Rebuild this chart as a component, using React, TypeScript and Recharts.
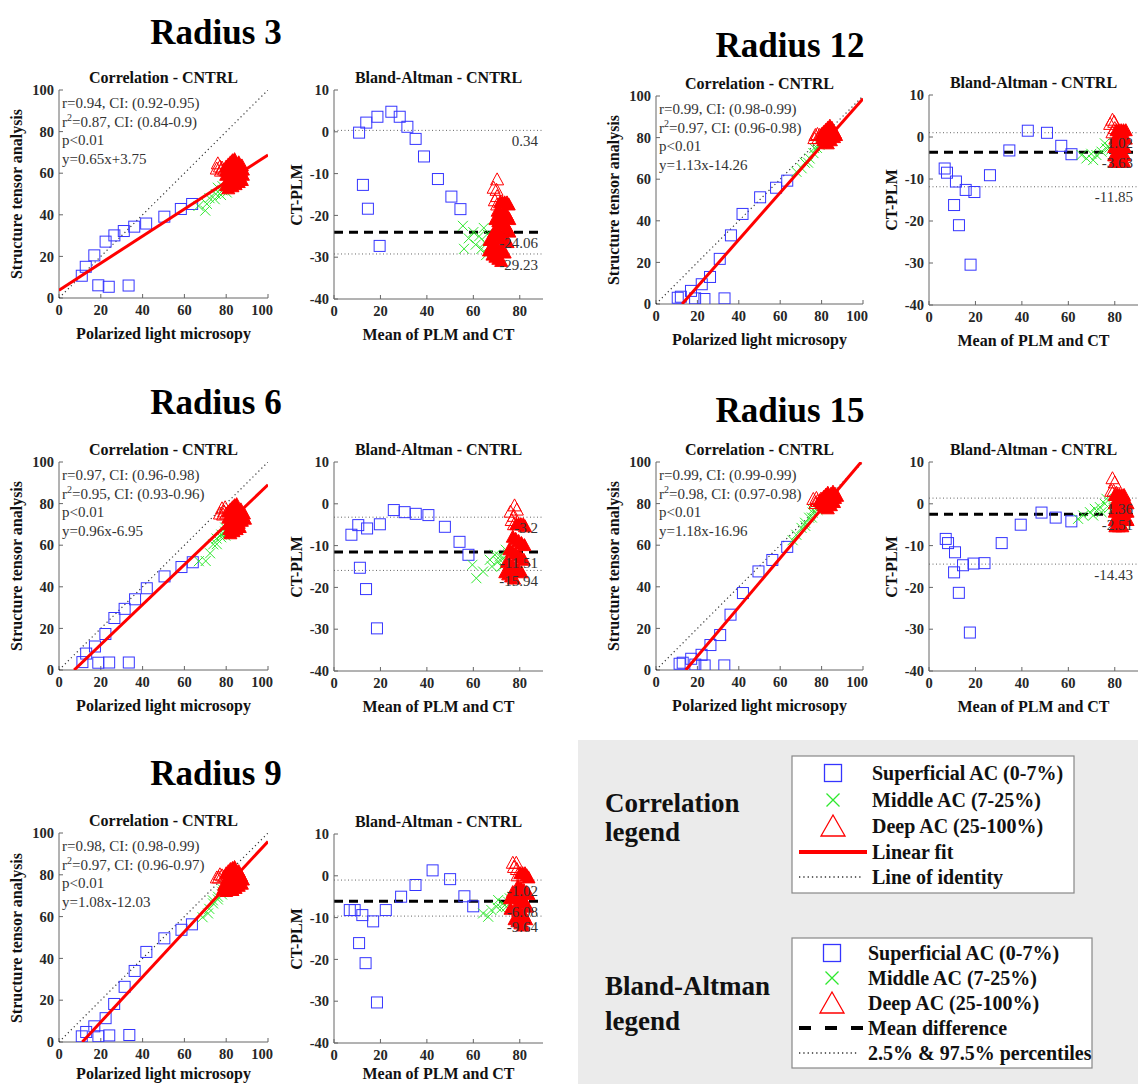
import React from 'react';
import { ScatterChart, Scatter, XAxis, YAxis, ReferenceLine } from 'recharts';

const FONT = "'Liberation Serif', 'Times New Roman', Times, serif";
type Pt = [number, number];

// ---------------- DATA (x = PLM, y = CT) ----------------
const radiusNames = ['Radius 3', 'Radius 12', 'Radius 6', 'Radius 15', 'Radius 9'];
const corrTicks = [0, 20, 40, 60, 80, 100];
const baXTicks = [0, 20, 40, 60, 80];
const baYTicks = [-40, -30, -20, -10, 0, 10];

// Radius 3
const r3Superficial: Pt[] = [[10.9,10.7],[12.8,15],[16.9,20.5],[22.3,27.1],[26.5,30.1],[31,32.2],[36,34.3],[41.7,35.8],[50.4,39.1],[58.3,42.8],[63.7,45.2],[18.8,6.1],[23.8,5.4],[33.3,6]];
const r3Middle: Pt[] = [[66.75,44.25],[70,42],[70.75,45.25],[72,48],[74.5,47.5],[75,50],[77.5,49.5],[76,53],[78.25,51.75],[80.25,50.75],[78.25,53.75],[80.25,52.75]];
const r3DeepEdge: Pt[] = [[76,64.5],[77,63],[75.5,62],[78,62.5],[77.5,61],[79,61.5]];
const r3DeepCore: Pt[] = [
  [80,63],[81,64],[82,65],[83,66],[84,66.5],
  [80,61],[81.5,62],[83,63.5],[84.5,64.5],[86,65],
  [80,59],[81.5,60],[83,61],[84.5,62],[86,63],[87.5,63.5],
  [81,57],[82.5,58],[84,59],[85.5,60],[87,61],[88,61.5],
  [82,55],[83.5,56],[85,57],[86.5,58],[88,59],
  [80,54],[81,52.5],[83,53.5],[84.5,54.5],[86,55.5],[87.5,56.5]];
const r3Fit = { slope: 0.65, intercept: 3.75 };
const r3Stats = ['r=0.94, CI: (0.92-0.95)', '=0.87, CI: (0.84-0.9)', 'p<0.01', 'y=0.65x+3.75'];
const r3Limits = [0.34, -24.06, -29.23];
const r3LimitLabels = ['0.34', '-24.06', '-29.23'];

// Radius 6
const r6Superficial: Pt[] = [[11.2,3.8],[13,7.9],[17.2,11.3],[22.2,17.3],[26.5,25],[31.4,29.4],[36.4,34],[42,39.3],[50.5,45],[58.6,49.5],[64,51.8],[18.8,3.5],[24,3.6],[33.4,3.6]];
const r6Middle: Pt[] = [[66.9,52.3],[70.2,52.4],[72.3,56.1],[73.8,60.4],[75.4,63.2],[77.6,63.8],[79.6,64.6],[77.7,65.1],[79.5,66.5],[79.5,68.5],[80.75,66.25],[75.5,60.5],[81,69]];
const r6DeepEdge: Pt[] = [[78,77.5],[79,76],[78.5,74.5],[80,75],[77,75],[79.5,78]];
const r6DeepCore: Pt[] = [
  [81,76],[82,77],[83,78],[84,79],[85,79.5],
  [81,73],[82.5,74],[84,75],[85.5,76],[87,77],
  [81,70],[82.5,71],[84,72],[85.5,73],[87,74],[88.5,75],
  [81.5,67.5],[83,68.5],[84.5,69.5],[86,70.5],[87.5,71.5],[89,72.5],
  [82,65.5],[83.5,66.5],[85,67.5],[86.5,68.5]];
const r6Fit = { slope: 0.96, intercept: -6.95 };
const r6Stats = ['r=0.97, CI: (0.96-0.98)', '=0.95, CI: (0.93-0.96)', 'p<0.01', 'y=0.96x-6.95'];
const r6Limits = [-3.2, -11.51, -15.94];
const r6LimitLabels = ['-3.2', '-11.51', '-15.94'];

// Radius 9
const r9Superficial: Pt[] = [[10.9,2.7],[13,4.8],[16.9,7.5],[22.3,11.4],[26.4,18.2],[31.4,26.4],[36.2,34],[41.8,43.1],[50.4,49.6],[58.6,53.7],[63.6,56.3],[18.85,2.75],[24.05,3.15],[33.65,3.35]];
const r9Middle: Pt[] = [[68.7,59.7],[71.3,61.5],[71.9,63.7],[73.7,66.3],[76.1,69.5],[78.1,71.9],[78,70.6],[76,68.2],[73.6,67.8],[78.4,73],[79.5,74.5]];
const r9DeepEdge: Pt[] = [[77,80],[78,79.5],[76.5,78.5],[79,79],[75.5,78.5]];
const r9DeepCore: Pt[] = [
  [80,80.5],[81,81.5],[82,82.5],[83,83],[84,83.5],
  [80.5,78],[82,79],[83.5,80],[85,81],[86,81.5],
  [81,76],[82.5,77],[84,78],[85.5,79],[87,79.5],
  [82,74],[83.5,75],[85,76],[86.5,77],[88,77.5],
  [83,72.5],[84.5,73.5],[86,74.5],[87.5,75.5],
  [79,75],[78.5,73],[80,72]];
const r9Fit = { slope: 1.08, intercept: -12.03 };
const r9Stats = ['r=0.98, CI: (0.98-0.99)', '=0.97, CI: (0.96-0.97)', 'p<0.01', 'y=1.08x-12.03'];
const r9Limits = [-1.02, -6.08, -9.64];
const r9LimitLabels = ['-1.02', '-6.08', '-9.64'];

// Radius 12
const r12Superficial: Pt[] = [[10.5,3],[12,3.5],[16.9,6.3],[22.1,9.5],[26.1,13],[30.8,21.7],[36.2,33],[41.8,43.3],[50.3,51.3],[58,55.9],[63.4,59.3],[18.9,2.7],[23.4,2.4],[33.1,2.7]];
const r12Middle: Pt[] = [[67.85,63.55],[70.35,65.25],[71.9,67.9],[74.25,69.95],[76.05,72.55],[77.75,75.05],[76.45,74.95],[73.45,67.95],[80,77],[79,76.5]];
const r12DeepEdge: Pt[] = [[77,81],[78,81.5],[76.5,79.5],[79,81],[78.5,79.5]];
const r12DeepCore: Pt[] = [
  [80,81.5],[81,82.5],[82,83.5],[83,84.5],[84,85.5],
  [80.5,80],[82,81.5],[83.5,83],[85,84.5],
  [81,78.5],[82.5,80],[84,81.5],[85.5,83],
  [82,77.5],[83.5,79],[85,80.5],[86.5,82],
  [83,77],[84.5,78.5],[86,80],[87,81]];
const r12Fit = { slope: 1.13, intercept: -14.26 };
const r12Stats = ['r=0.99, CI: (0.98-0.99)', '=0.97, CI: (0.96-0.98)', 'p<0.01', 'y=1.13x-14.26'];
const r12Limits = [1.02, -3.63, -11.85];
const r12LimitLabels = ['1.02', '-3.63', '-11.85'];

// Radius 15
const r15Superficial: Pt[] = [[11.4,3],[12.9,3.5],[17,5.4],[19,2.6],[23.5,2.2],[22,7.3],[26.3,12],[31,16.8],[36,26.6],[42,37],[49.5,47.4],[56.2,52.9],[63.4,59.2],[33,2.2]];
const r15Middle: Pt[] = [[66,62.4],[67.8,65],[70.3,68.3],[72,70.8],[74,73.2],[75.7,75.7],[75.8,77],[75.3,73.3],[72.1,69.3],[78,77],[80,79]];
const r15DeepEdge: Pt[] = [[76,82],[77.5,82.5],[78,81],[79.5,82],[77,80]];
const r15DeepCore: Pt[] = [
  [79,81],[80,82],[81,83],[82,84],[83,85],
  [80,80],[81.5,81.5],[83,83],[84.5,84.5],[85.5,85.5],
  [81,79],[82.5,80.5],[84,82],[85.5,83.5],[86.5,84.5],
  [82,78],[83.5,79.5],[85,81],[86.5,82.5],[87.5,83.5],
  [83,77.5],[84.5,79],[86,80.5]];
const r15Fit = { slope: 1.18, intercept: -16.96 };
const r15Stats = ['r=0.99, CI: (0.99-0.99)', '=0.98, CI: (0.97-0.98)', 'p<0.01', 'y=1.18x-16.96'];
const r15Limits = [1.36, -2.51, -14.43];
const r15LimitLabels = ['1.36', '-2.51', '-14.43'];

const datasets = [
  { sup: r3Superficial, mid: r3Middle, edge: r3DeepEdge, core: r3DeepCore, fit: r3Fit, stats: r3Stats, limits: r3Limits, labels: r3LimitLabels },
  { sup: r12Superficial, mid: r12Middle, edge: r12DeepEdge, core: r12DeepCore, fit: r12Fit, stats: r12Stats, limits: r12Limits, labels: r12LimitLabels },
  { sup: r6Superficial, mid: r6Middle, edge: r6DeepEdge, core: r6DeepCore, fit: r6Fit, stats: r6Stats, limits: r6Limits, labels: r6LimitLabels },
  { sup: r15Superficial, mid: r15Middle, edge: r15DeepEdge, core: r15DeepCore, fit: r15Fit, stats: r15Stats, limits: r15Limits, labels: r15LimitLabels },
  { sup: r9Superficial, mid: r9Middle, edge: r9DeepEdge, core: r9DeepCore, fit: r9Fit, stats: r9Stats, limits: r9Limits, labels: r9LimitLabels },
];

// ---------------- LAYOUT ----------------
type Rect = { L: number; T: number; R: number; B: number };
const layout: { tx: number; ty: number; corr: Rect; ba: Rect }[] = [
  { tx: 216, ty: 32, corr: { L: 59, T: 90, R: 268, B: 298 }, ba: { L: 334, T: 90, R: 543, B: 299 } },
  { tx: 790, ty: 45, corr: { L: 656, T: 96, R: 863, B: 304 }, ba: { L: 929, T: 95, R: 1138, B: 305 } },
  { tx: 216, ty: 402, corr: { L: 59, T: 462, R: 268, B: 670 }, ba: { L: 334, T: 462, R: 543, B: 671 } },
  { tx: 790, ty: 410, corr: { L: 656, T: 462, R: 863, B: 670 }, ba: { L: 929, T: 462, R: 1138, B: 671 } },
  { tx: 216, ty: 773, corr: { L: 59, T: 833, R: 268, B: 1042 }, ba: { L: 334, T: 834, R: 543, B: 1043 } },
];

const BLUE = '#3535ff';
const GREEN = '#2ee82e';
const RED = '#ff0000';
const AXIS = '#666';
const tickStyle = { fontSize: 14.5, fontWeight: 700, fill: '#262626', fontFamily: FONT };

const toXY = (pts: Pt[]) => pts.map(([x, y]) => ({ x, y }));
const toBA = (pts: Pt[]) => pts.map(([x, y]) => ({ x: (x + y) / 2, y: y - x }));

function fitSegment(f: { slope: number; intercept: number }) {
  let x0 = 0, x1 = 100;
  if (f.slope * x0 + f.intercept < 0) x0 = -f.intercept / f.slope;
  if (f.slope * x1 + f.intercept > 100) x1 = (100 - f.intercept) / f.slope;
  return [{ x: x0, y: f.slope * x0 + f.intercept }, { x: x1, y: f.slope * x1 + f.intercept }];
}
const identity = [{ x: 0, y: 0 }, { x: 100, y: 100 }];

// ---------------- SHAPES ----------------
const Square = (p: any) => <rect x={p.cx - 5.5} y={p.cy - 5.5} width={11} height={11} fill="none" stroke={BLUE} strokeWidth={1} />;
const Cross = (p: any) => (
  <path d={`M${p.cx - 5},${p.cy - 5}L${p.cx + 5},${p.cy + 5}M${p.cx - 5},${p.cy + 5}L${p.cx + 5},${p.cy - 5}`} stroke={GREEN} strokeWidth={1} fill="none" />
);
const triPath = (p: any) => `M${p.cx},${p.cy - 7}L${p.cx + 6.5},${p.cy + 5}L${p.cx - 6.5},${p.cy + 5}Z`;
const Tri = (p: any) => <path d={triPath(p)} fill="none" stroke={RED} strokeWidth={1} />;
// dense, heavily overplotted triangles read as a solid red mass
const TriDense = (p: any) => <path d={triPath(p)} fill={RED} stroke={RED} strokeWidth={1} />;
const NoShape = () => <g />;

function Txt({ x, y, size, bold = false, color = '#111', rotate = false, anchor = 'middle', children }: any) {
  const tx = anchor === 'middle' ? '-50%' : anchor === 'end' ? '-100%' : '0';
  return (
    <div
      style={{
        position: 'absolute', left: x, top: y,
        transform: `translate(${tx},-50%)${rotate ? ' rotate(-90deg)' : ''}`,
        whiteSpace: 'nowrap', fontFamily: FONT, fontSize: size, fontWeight: bold ? 700 : 400,
        color, lineHeight: 1,
      }}
    >
      {children}
    </div>
  );
}

const xLabelY = (B: number) => Math.min(B + 36, 1074);

function CorrPanel({ r, d }: { r: Rect; d: any }) {
  const w = r.R - r.L + 50, h = r.B - r.T + 40;
  return (
    <>
      <div style={{ position: 'absolute', left: r.L - 45, top: r.T - 10, fontFamily: FONT }}>
        <ScatterChart width={w} height={h} margin={{ top: 10, right: 5, bottom: 0, left: 0 }} style={{ fontFamily: FONT }}>
          <XAxis type="number" dataKey="x" domain={[0, 100]} ticks={corrTicks} allowDataOverflow height={30}
            tick={tickStyle} tickSize={-4} tickMargin={11} stroke={AXIS} />
          <YAxis type="number" dataKey="y" domain={[0, 100]} ticks={corrTicks} allowDataOverflow width={45}
            tick={tickStyle} tickSize={-4} tickMargin={9} stroke={AXIS} />
          <Scatter data={identity} shape={NoShape} line={{ stroke: '#333', strokeWidth: 1.2, strokeDasharray: '1.2 3' }} isAnimationActive={false} />
          <Scatter data={toXY(d.sup)} shape={Square} isAnimationActive={false} />
          <Scatter data={toXY(d.mid)} shape={Cross} isAnimationActive={false} />
          <Scatter data={toXY(d.edge)} shape={Tri} isAnimationActive={false} />
          <Scatter data={toXY(d.core)} shape={TriDense} isAnimationActive={false} />
          <Scatter data={fitSegment(d.fit)} shape={NoShape} line={{ stroke: RED, strokeWidth: 3 }} isAnimationActive={false} />
        </ScatterChart>
      </div>
      <Txt x={(r.L + r.R) / 2} y={r.T - 12} size={16} bold>Correlation - CNTRL</Txt>
      <Txt x={(r.L + r.R) / 2} y={xLabelY(r.B)} size={16} bold>Polarized light microsopy</Txt>
      <Txt x={r.L - 42} y={(r.T + r.B) / 2} size={16} bold rotate>Structure tensor analysis</Txt>
      <div style={{ position: 'absolute', left: r.L + 3, top: r.T + 4, fontFamily: FONT, fontSize: 15, color: '#333', lineHeight: '18.5px', whiteSpace: 'nowrap' }}>
        <div>{d.stats[0]}</div>
        <div>r<sup style={{ fontSize: 10, lineHeight: 0 }}>2</sup>{d.stats[1]}</div>
        <div>{d.stats[2]}</div>
        <div>{d.stats[3]}</div>
      </div>
    </>
  );
}

function BAPanel({ r, d }: { r: Rect; d: any }) {
  const w = r.R - r.L + 50, h = r.B - r.T + 40;
  const lab = (v: string) => ({ value: v, position: 'insideTopRight' as const, offset: 5, fill: '#333', fontSize: 15, fontFamily: FONT });
  return (
    <>
      <div style={{ position: 'absolute', left: r.L - 45, top: r.T - 10, fontFamily: FONT }}>
        <ScatterChart width={w} height={h} margin={{ top: 10, right: 5, bottom: 0, left: 0 }} style={{ fontFamily: FONT }}>
          <XAxis type="number" dataKey="x" domain={[0, 90]} ticks={baXTicks} allowDataOverflow height={30}
            tick={tickStyle} tickSize={-4} tickMargin={11} stroke={AXIS} />
          <YAxis type="number" dataKey="y" domain={[-40, 10]} ticks={baYTicks} allowDataOverflow width={45}
            tick={tickStyle} tickSize={-4} tickMargin={9} stroke={AXIS} />
          <Scatter data={toBA(d.sup)} shape={Square} isAnimationActive={false} />
          <Scatter data={toBA(d.mid)} shape={Cross} isAnimationActive={false} />
          <Scatter data={toBA(d.edge)} shape={Tri} isAnimationActive={false} />
          <Scatter data={toBA(d.core)} shape={TriDense} isAnimationActive={false} />
          <ReferenceLine y={d.limits[0]} stroke="#666" strokeWidth={1} strokeDasharray="1 2.5" label={lab(d.labels[0])} />
          <ReferenceLine y={d.limits[1]} stroke="#000" strokeWidth={3} strokeDasharray="9 6" label={lab(d.labels[1])} />
          <ReferenceLine y={d.limits[2]} stroke="#666" strokeWidth={1} strokeDasharray="1 2.5" label={lab(d.labels[2])} />
        </ScatterChart>
      </div>
      <Txt x={(r.L + r.R) / 2} y={r.T - 12} size={16} bold>Bland-Altman - CNTRL</Txt>
      <Txt x={(r.L + r.R) / 2} y={xLabelY(r.B)} size={16} bold>Mean of PLM and CT</Txt>
      <Txt x={r.L - 37} y={(r.T + r.B) / 2} size={16} bold rotate>CT-PLM</Txt>
    </>
  );
}

function LegendPanel() {
  const t = { fontFamily: FONT, fontWeight: 700, fill: '#111' } as const;
  const entryText = ['Superficial AC (0-7%)', 'Middle AC (7-25%)', 'Deep AC (25-100%)'];
  return (
    <svg style={{ position: 'absolute', left: 578, top: 740 }} width={560} height={344}>
      <rect x={0} y={0} width={560} height={344} fill="#ebebeb" />
      <text x={27} y={71.5} fontSize={27} {...t}>Correlation</text>
      <text x={27} y={100.5} fontSize={27} {...t}>legend</text>
      <text x={27} y={254.5} fontSize={27} {...t}>Bland-Altman</text>
      <text x={27} y={289.5} fontSize={27} {...t}>legend</text>

      <rect x={214} y={16} width={282} height={137} fill="#fff" stroke="#888" strokeWidth={1.2} />
      <rect x={246.5} y={24.5} width={17} height={17} fill="none" stroke={BLUE} strokeWidth={1.3} />
      <path d="M248.5,53.5L261.5,66.5M248.5,66.5L261.5,53.5" stroke={GREEN} strokeWidth={1.3} />
      <path d="M255,75L267,96L243,96Z" fill="none" stroke={RED} strokeWidth={1.3} />
      <line x1={221} y1={112} x2={289} y2={112} stroke={RED} strokeWidth={4} />
      <line x1={221} y1={137} x2={284} y2={137} stroke="#333" strokeWidth={1.3} strokeDasharray="1.3 3" />
      {entryText.map((s, i) => <text key={s} x={294} y={40 + i * 26.5} fontSize={20} {...t}>{s}</text>)}
      <text x={294} y={119} fontSize={20} {...t}>Linear fit</text>
      <text x={294} y={144} fontSize={20} {...t}>Line of identity</text>

      <rect x={214} y={198} width={300} height={130} fill="#fff" stroke="#888" strokeWidth={1.2} />
      <rect x={245.5} y={204.5} width={17} height={17} fill="none" stroke={BLUE} strokeWidth={1.3} />
      <path d="M247.5,231.5L260.5,244.5M247.5,244.5L260.5,231.5" stroke={GREEN} strokeWidth={1.3} />
      <path d="M254,252L266,273L242,273Z" fill="none" stroke={RED} strokeWidth={1.3} />
      <line x1={221} y1={288} x2={285} y2={288} stroke="#000" strokeWidth={4} strokeDasharray="12 14" />
      <line x1={221} y1={313} x2={281} y2={313} stroke="#333" strokeWidth={1.3} strokeDasharray="1.3 3" />
      {entryText.map((s, i) => <text key={s} x={290} y={220 + i * 25} fontSize={20} {...t}>{s}</text>)}
      <text x={290} y={295} fontSize={20} {...t}>Mean difference</text>
      <text x={290} y={320} fontSize={20} {...t}>2.5% &amp; 97.5% percentiles</text>
    </svg>
  );
}

export default function App() {
  return (
    <div style={{ position: 'absolute', left: 0, top: 0, width: 1138, height: 1084, overflow: 'hidden', background: '#fff' }}>
      {layout.map((l, i) => (
        <React.Fragment key={radiusNames[i]}>
          <Txt x={l.tx} y={l.ty} size={35} bold color="#000">{radiusNames[i]}</Txt>
          <CorrPanel r={l.corr} d={datasets[i]} />
          <BAPanel r={l.ba} d={datasets[i]} />
        </React.Fragment>
      ))}
      <LegendPanel />
    </div>
  );
}
